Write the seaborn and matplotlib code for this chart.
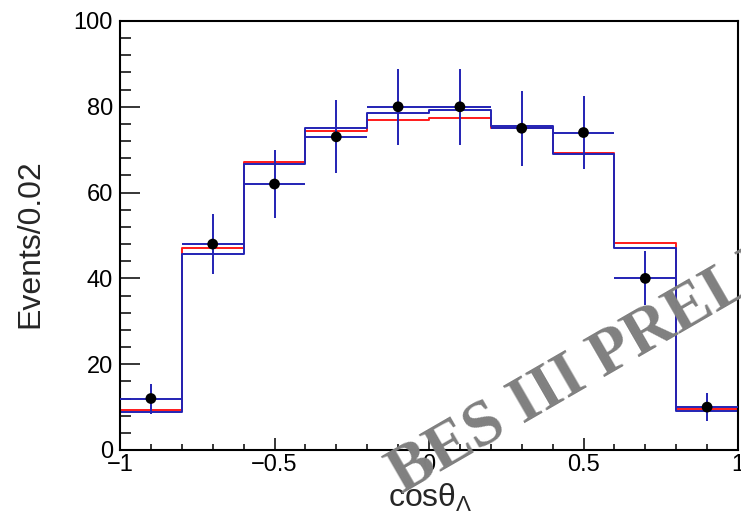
import matplotlib
matplotlib.use("Agg")
import matplotlib.pyplot as plt
import seaborn as sns
import pandas as pd
from matplotlib.ticker import MultipleLocator, FixedLocator

# bin layout and values
bin_edges = [-1.0, -0.8, -0.6, -0.4, -0.2, 0.0, 0.2, 0.4, 0.6, 0.8, 1.0]
bin_centers = [-0.9, -0.7, -0.5, -0.3, -0.1, 0.1, 0.3, 0.5, 0.7, 0.9]
data_counts = [12, 48, 62, 73, 80, 80, 75, 74, 40, 10]
data_errors = [3.5, 6.9, 7.9, 8.5, 8.9, 8.9, 8.7, 8.6, 6.3, 3.2]
bin_half_width = [0.1] * 10
fit_red = [9.3, 47.0, 67.2, 74.4, 76.9, 77.5, 75.0, 69.3, 48.3, 9.6]
fit_blue = [8.9, 45.8, 66.7, 75.1, 78.5, 79.3, 75.6, 68.9, 47.0, 9.1]

sns.set_style("ticks")
plt.rcParams["font.family"] = ["Liberation Sans", "DejaVu Sans"]
plt.rcParams["mathtext.default"] = "regular"

df = pd.DataFrame({"x": bin_centers, "data": data_counts, "err": data_errors,
                   "red": fit_red, "blue": fit_blue})

BLUE = "#2323b4"

fig = plt.figure(figsize=(7.41, 5.22), dpi=100)
ax = fig.add_axes([120 / 741, 72 / 522, 618 / 741, 429 / 522])

sns.histplot(data=df, x="x", weights="red", bins=bin_edges, element="step",
             fill=False, color="#ff1a1a", linewidth=1.4, ax=ax)
sns.histplot(data=df, x="x", weights="blue", bins=bin_edges, element="step",
             fill=False, color=BLUE, linewidth=1.4, ax=ax)
ax.errorbar(df["x"], df["data"], xerr=bin_half_width, yerr=df["err"], fmt="none",
            ecolor=BLUE, elinewidth=1.4, capsize=0, zorder=4)
sns.scatterplot(data=df, x="x", y="data", color="black", s=60, edgecolor="none",
                ax=ax, zorder=5)

ax.set_xlim(-1, 1)
ax.set_ylim(0, 100)
ax.xaxis.set_major_locator(FixedLocator([-1, -0.5, 0, 0.5, 1]))
ax.xaxis.set_minor_locator(MultipleLocator(0.1))
ax.yaxis.set_major_locator(MultipleLocator(20))
ax.yaxis.set_minor_locator(MultipleLocator(4))
ax.set_xticklabels(["\u22121", "\u22120.5", "0", "0.5", "1"])

ax.tick_params(axis="both", which="both", direction="in", width=1.1,
               labelsize=17, colors="black")
ax.tick_params(axis="x", which="major", length=8.6, pad=3)
ax.tick_params(axis="x", which="minor", length=4.3)
ax.tick_params(axis="y", which="major", length=14.4, pad=5)
ax.tick_params(axis="y", which="minor", length=7.9)

for s in ax.spines.values():
    s.set_linewidth(1.5)
    s.set_color("black")

ax.set_ylabel("Events/0.02", fontsize=23)
ax.yaxis.set_label_coords(-0.12, 0.48)
ax.set_xlabel("cos\u03b8$_{\\Lambda}$", fontsize=23)
ax.xaxis.set_label_coords(0.503, -0.075)
ax.xaxis.label.set_va("top")

fig.text(402 / 741, 1 - 494 / 522, "BES III PRELIMINARY", rotation=30,
         rotation_mode="anchor", ha="left", va="baseline", fontsize=47,
         fontweight="bold", family="Liberation Serif", color="#808080", zorder=10)

fig.savefig("out.png", dpi=100)
